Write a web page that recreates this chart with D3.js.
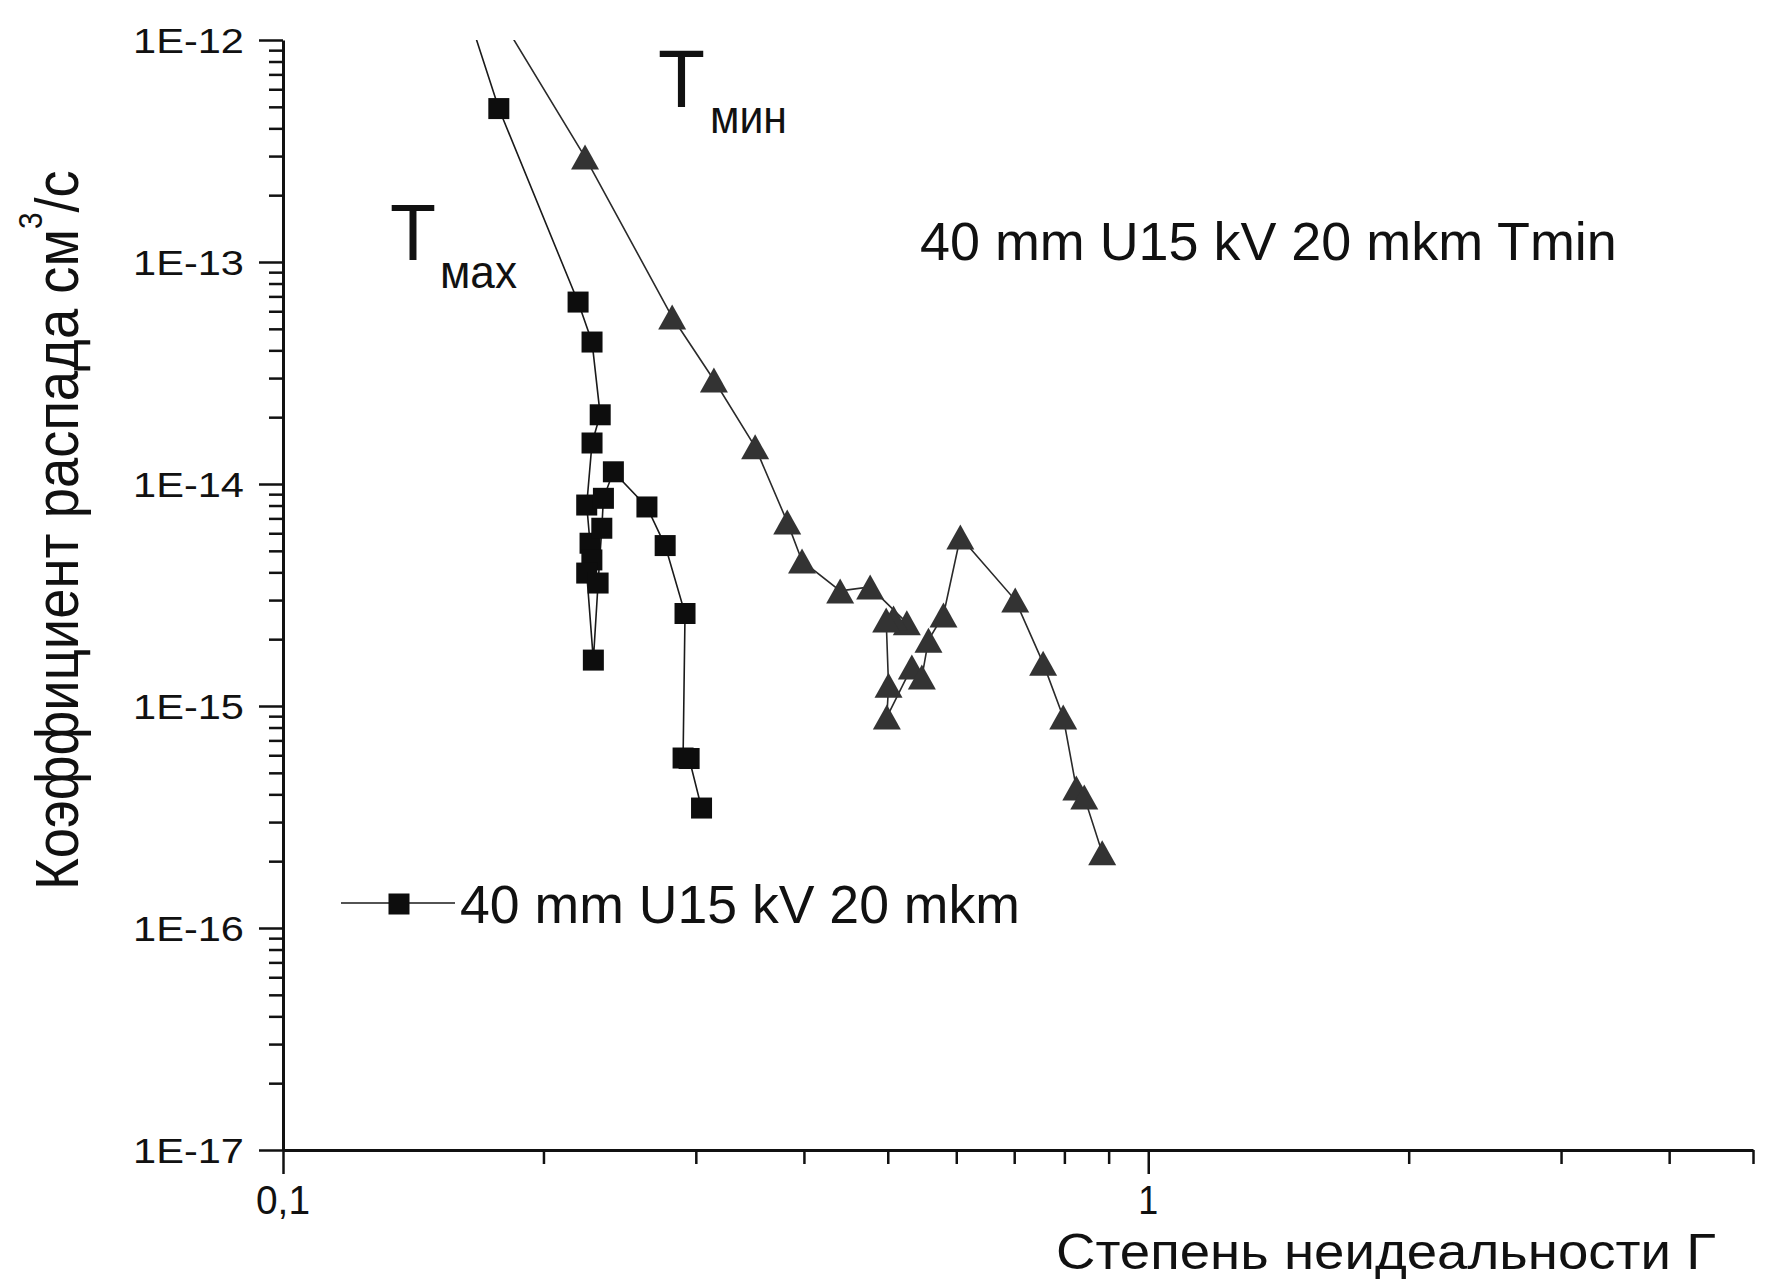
<!DOCTYPE html>
<html>
<head>
<meta charset="utf-8">
<script src="https://cdn.jsdelivr.net/npm/d3@7"></script>
<style>
  html, body { margin: 0; padding: 0; background: #fff; }
  svg { display: block; }
  text { font-family: "Liberation Sans", Arial, sans-serif; fill: #111; }
</style>
</head>
<body>
<script>
// Tmax series (squares): degree of non-ideality Γ and decay coefficient, cm^3/s
const tmaxGamma = [0.158, 0.1776, 0.2193, 0.2276, 0.2326, 0.2276, 0.2244, 0.2264, 0.2275, 0.2244,
                   0.2284, 0.2313, 0.2336, 0.2346, 0.2409, 0.2634, 0.2765, 0.2915, 0.2900, 0.2947, 0.3046];
const tmaxRate  = [2.0e-12, 4.91e-13, 6.6e-14, 4.36e-14, 2.05e-14, 1.53e-14, 8.04e-15, 5.41e-15, 4.55e-15, 3.97e-15,
                   1.61e-15, 3.58e-15, 6.32e-15, 8.62e-15, 1.135e-14, 7.88e-15, 5.28e-15, 2.61e-15, 5.83e-16, 5.8e-16, 3.47e-16];

// Tmin series (triangles)
const tminGamma = [0.166, 0.2234, 0.2817, 0.3148, 0.3513, 0.3826, 0.3980, 0.4405, 0.4771, 0.5260, 0.5077, 0.4979,
                   0.5010, 0.4988, 0.5331, 0.5475, 0.5572, 0.5799, 0.6065, 0.7019, 0.7560, 0.7975, 0.8258, 0.8435, 0.8847];
const tminRate  = [2.0e-12, 2.97e-13, 5.65e-14, 2.94e-14, 1.47e-14, 6.75e-15, 4.5e-15, 3.3e-15, 3.44e-15, 2.37e-15, 2.49e-15, 2.44e-15,
                   1.24e-15, 8.92e-16, 1.5e-15, 1.35e-15, 1.98e-15, 2.57e-15, 5.77e-15, 3.0e-15, 1.56e-15, 8.92e-16, 4.27e-16, 3.89e-16, 2.18e-16];

// Axis ticks and labels
const xMajorTicks = [0.1, 1];
const xMajorLabels = ["0,1", "1"];
const xMinorTicks = [0.2, 0.3, 0.4, 0.5, 0.6, 0.7, 0.8, 0.9, 2, 3, 4, 5];
const yMajorTicks = [1e-17, 1e-16, 1e-15, 1e-14, 1e-13, 1e-12];
const yMajorLabels = ["1E-17", "1E-16", "1E-15", "1E-14", "1E-13", "1E-12"];
const yMinorTicks = [];
for (let e = -17; e < -12; e++) for (let k = 2; k <= 9; k++) yMinorTicks.push(k * Math.pow(10, e));

const xTitle = "Степень неидеальности Г";
const yTitleMain = "Коэффициент распада см";
const yTitleSup = "3";
const yTitleTail = "/с";
const legendLabel = "40 mm U15 kV 20 mkm";
const tminNote = "40 mm U15 kV 20 mkm Tmin";

const W = 1772, H = 1281;
const svg = d3.select("body").append("svg").attr("width", W).attr("height", H);
svg.append("rect").attr("width", W).attr("height", H).attr("fill", "#fff");

const x = d3.scaleLog().domain([0.1, 5]).range([283, 1753]);
const y = d3.scaleLog().domain([1e-17, 1e-12]).range([1150, 40]);

// place a text at (px,py), squeezed or stretched along its baseline to width w
function fitText(parent, str, px, py, size, w, anchor, rot) {
  const g = parent.append("g");
  const t = g.append("text").attr("font-size", size).attr("text-anchor", anchor || "start").text(str);
  const len = t.node().getComputedTextLength();
  const k = w / len;
  g.attr("transform", `translate(${px},${py}) rotate(${rot || 0}) scale(${k},1)`);
  return t;
}

// X axis
const xAxis = svg.append("g").attr("transform", `translate(0,${y(1e-17)})`)
  .call(d3.axisBottom(x).tickValues(xMajorTicks.concat(xMinorTicks)).tickSizeInner(14).tickSizeOuter(0).tickFormat(""));
xAxis.select(".domain").attr("stroke", "#111").attr("stroke-width", 3);
xAxis.selectAll(".tick line").attr("stroke", "#111").attr("stroke-width", 2.5)
  .filter(d => xMajorTicks.includes(d)).attr("y2", 24);

// Y axis
const yAxis = svg.append("g").attr("transform", `translate(${x(0.1)},0)`)
  .call(d3.axisLeft(y).tickValues(yMajorTicks.concat(yMinorTicks)).tickSizeInner(14).tickSizeOuter(0).tickFormat(""));
yAxis.select(".domain").attr("stroke", "#111").attr("stroke-width", 3);
yAxis.selectAll(".tick line").attr("stroke", "#111").attr("stroke-width", 2.5)
  .filter(d => yMajorTicks.includes(d)).attr("x2", -24);

// tick labels
const labels = svg.append("g");
xMajorTicks.forEach((v, i) => {
  fitText(labels, xMajorLabels[i], x(v), y(1e-17) + 64, 40, i === 0 ? 54 : 20, "middle");
});
yMajorTicks.forEach((v, i) => {
  fitText(labels, yMajorLabels[i], x(0.1) - 39, y(v) + 12.5, 35, 111, "end");
});

// axis titles
fitText(svg, xTitle, 1056, 1269, 50, 660, "start");
{
  const g = svg.append("g");
  const t = g.append("text").attr("font-size", 62);
  t.append("tspan").text(yTitleMain);
  t.append("tspan").attr("font-size", 34).attr("dy", -36).text(yTitleSup);
  t.append("tspan").attr("dy", 36).text(yTitleTail);
  const len = t.node().getComputedTextLength();
  g.attr("transform", `translate(78,890) rotate(-90) scale(${720 / len},1)`);
}

// data
const clip = svg.append("clipPath").attr("id", "plot-clip")
  .append("rect").attr("x", x(0.1)).attr("y", y(1e-12)).attr("width", x(5) - x(0.1)).attr("height", y(1e-17) - y(1e-12));

const tmaxPts = tmaxGamma.map((g, i) => [g, tmaxRate[i]]);
const tminPts = tminGamma.map((g, i) => [g, tminRate[i]]);
const line = d3.line().x(d => x(d[0])).y(d => y(d[1]));

const plot = svg.append("g").attr("clip-path", "url(#plot-clip)");
plot.append("path").datum(tminPts).attr("d", line).attr("fill", "none").attr("stroke", "#2a2a2a").attr("stroke-width", 1.6);
plot.append("path").datum(tmaxPts).attr("d", line).attr("fill", "none").attr("stroke", "#1a1a1a").attr("stroke-width", 1.6);

const triW = 28, triH = 25, sq = 21;
plot.selectAll(".tri").data(tminPts).enter().append("path").attr("class", "tri")
  .attr("d", `M0,${-triH / 2}L${triW / 2},${triH / 2}L${-triW / 2},${triH / 2}Z`)
  .attr("transform", d => `translate(${x(d[0])},${y(d[1])})`)
  .attr("fill", "#333");
plot.selectAll(".sq").data(tmaxPts).enter().append("rect").attr("class", "sq")
  .attr("x", d => x(d[0]) - sq / 2).attr("y", d => y(d[1]) - sq / 2)
  .attr("width", sq).attr("height", sq).attr("fill", "#0d0d0d");

// annotations
fitText(svg, "T", 390, 260, 80, 46, "start");
fitText(svg, "мах", 440, 288, 46, 77, "start");
fitText(svg, "T", 658, 107, 82, 47, "start");
fitText(svg, "мин", 710, 133, 46, 77, "start");
fitText(svg, tminNote, 920, 260, 54, 697, "start");

// legend
const leg = svg.append("g");
leg.append("line").attr("x1", 341).attr("x2", 455).attr("y1", 903).attr("y2", 903).attr("stroke", "#1a1a1a").attr("stroke-width", 1.6);
leg.append("rect").attr("x", 399 - sq / 2).attr("y", 904 - sq / 2).attr("width", sq).attr("height", sq).attr("fill", "#0d0d0d");
fitText(leg, legendLabel, 460, 923, 54, 560, "start");
</script>
</body>
</html>
